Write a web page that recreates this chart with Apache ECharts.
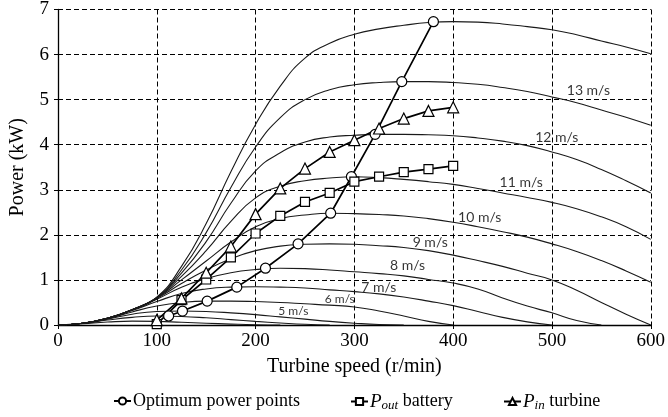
<!DOCTYPE html>
<html><head><meta charset="utf-8">
<script src="https://cdn.jsdelivr.net/npm/echarts@6/dist/echarts.min.js"></script>
<style>html,body{margin:0;padding:0;background:#fff}#c{width:668px;height:417px}</style>
</head><body><div id="c"></div>
<script>
// Turbine speed grid (r/min) for the wind-speed power curves
const speeds = [0,25,50,75,100,125,150,175,200,225,250,275,300,325,350,375,400,425,450,475,500,525,550,575,600];
// Power (kW) per wind speed curve
const w3  = [0,0.03,0.065,0.085,0.08,0.06,0.04,0.02,0.005,0,null,null,null,null,null,null,null,null,null,null,null,null,null,null,null];
const w4  = [0,0.035,0.11,0.17,0.2,0.19,0.16,0.12,0.08,0.045,0.015,0,null,null,null,null,null,null,null,null,null,null,null,null,null];
const w5  = [0,0.04,0.13,0.24,0.3,0.31,0.3,0.27,0.23,0.18,0.13,0.08,0.04,0.01,0,null,null,null,null,null,null,null,null,null,null];
const w6  = [0,0.04,0.14,0.29,0.42,0.5,0.53,0.53,0.52,0.5,0.47,0.44,0.4,0.31,0.2,0.08,0,null,null,null,null,null,null,null,null];
const w7  = [0,0.04,0.15,0.32,0.52,0.7,0.8,0.84,0.85,0.84,0.82,0.78,0.74,0.69,0.62,0.53,0.43,0.3,0.17,0.07,0,null,null,null,null];
const w8  = [0,0.04,0.15,0.33,0.57,0.84,1.03,1.16,1.23,1.26,1.25,1.22,1.18,1.14,1.09,1.01,0.93,0.8,0.6,0.42,0.27,0.1,0,null,null];
const w9  = [0,0.04,0.15,0.34,0.59,0.92,1.22,1.47,1.65,1.75,1.79,1.8,1.79,1.76,1.72,1.65,1.55,1.43,1.3,1.15,1.0,0.77,0.5,0.24,0];
const w10 = [0,0.04,0.15,0.34,0.6,1.0,1.42,1.84,2.18,2.36,2.44,2.48,2.47,2.45,2.42,2.36,2.28,2.18,2.07,1.95,1.8,1.63,1.43,1.2,0.95];
const w11 = [0,0.04,0.15,0.34,0.6,1.08,1.65,2.3,2.82,3.08,3.2,3.26,3.29,3.27,3.23,3.18,3.12,3.03,2.93,2.83,2.72,2.58,2.4,2.18,1.9];
const w12 = [0,0.04,0.15,0.34,0.6,1.15,1.85,2.7,3.42,3.82,4.06,4.17,4.21,4.23,4.23,4.22,4.2,4.15,4.08,3.98,3.84,3.67,3.45,3.2,2.93];
const w13 = [0,0.04,0.15,0.34,0.61,1.22,2.05,3.05,3.95,4.6,5.0,5.22,5.33,5.38,5.4,5.4,5.38,5.34,5.27,5.18,5.06,4.93,4.77,4.61,4.43];
const w14 = [0,0.04,0.15,0.34,0.62,1.3,2.25,3.4,4.45,5.3,5.92,6.25,6.45,6.57,6.65,6.71,6.73,6.72,6.68,6.62,6.55,6.44,6.3,6.17,6.02];
const windCurves = [w3,w4,w5,w6,w7,w8,w9,w10,w11,w12,w13,w14];

// Optimum power points
const optSpeed = [112,126,151,181,210,243,276,297,321,348,380];
const optPower = [0.2,0.31,0.53,0.84,1.26,1.80,2.48,3.29,4.23,5.40,6.73];
// Measured points
const measSpeed = [100,125,150,175,200,225,250,275,300,325,350,375,400];
const poutBattery = [0.02,0.55,1.01,1.5,2.03,2.42,2.73,2.93,3.18,3.29,3.39,3.46,3.53];
const pinTurbine = [0.11,0.59,1.16,1.74,2.46,3.03,3.47,3.84,4.10,4.36,4.58,4.75,4.83];

// Curve labels (anchor in data coordinates)
const labelText  = ['5 m/s','6 m/s','7 m/s','8 m/s','9 m/s','10 m/s','11 m/s','12 m/s','13 m/s'];
const labelSpeed = [223,270,307,336,359,405,447,483,515];
const labelPower = [0.31,0.58,0.84,1.33,1.82,2.39,3.17,4.17,5.21];

const SERIF = '"Liberation Serif","Times New Roman",serif';
const SANS = 'Lato, "Open Sans", sans-serif';

const chart = echarts.init(document.getElementById('c'), null, {renderer:'canvas'});

const series = [];
windCurves.forEach(function(arr){
  const d = [];
  arr.forEach(function(v,i){ if (v !== null) d.push([speeds[i], v]); });
  series.push({type:'line', data:d, symbol:'none', smooth:0.5,
    lineStyle:{color:'#1a1a1a', width:1.1}, silent:true, z:2, emphasis:{disabled:true}});
});

function markerSeries(name, xs, ys, sym, size){
  return {name:name, type:'line', data:xs.map(function(x,i){return [x, ys[i]];}),
    symbol:sym, symbolSize:size, showAllSymbol:true,
    lineStyle:{color:'#000', width:1.7},
    itemStyle:{color:'#fff', borderColor:'#000', borderWidth:1.2},
    z:5, emphasis:{disabled:true}};
}
series.push(markerSeries('Optimum power points', optSpeed, optPower, 'circle', 10));
series.push(markerSeries('Pout battery', measSpeed, poutBattery, 'rect', 9));
series.push(markerSeries('Pin turbine', measSpeed, pinTurbine, 'triangle', 11));

series.push({type:'scatter', symbolSize:0, silent:true, z:10,
  data: labelText.map(function(t,i){ return {name:t, value:[labelSpeed[i], labelPower[i]],
      label:{fontSize: i < 2 ? 12 : 14}}; }),
  label:{show:true, position:'right', distance:0, formatter:'{b}', color:'#000', fontFamily:SANS}
});

const legendRich = {
  p:{fontFamily:SERIF, fontSize:19, fontStyle:'italic', color:'#000'},
  s:{fontFamily:SERIF, fontSize:13, fontStyle:'italic', color:'#000', padding:[9,0,0,0]},
  t:{fontFamily:SERIF, fontSize:18, color:'#000'}
};
function legendFmt(name){
  if (name === 'Pout battery') return '{p|P}{s|out}{t| battery}';
  if (name === 'Pin turbine') return '{p|P}{s|in}{t| turbine}';
  return '{t|' + name + '}';
}
function mkLegend(left, name){
  return {left:left, top:387, data:[name], itemWidth:17, itemHeight:9, itemGap:0,
    formatter:legendFmt, selectedMode:false,
    textStyle:{fontFamily:SERIF, fontSize:18, color:'#000', rich:legendRich, padding:[0,0,0,-3]}};
}

const axisCommon = {
  axisLine:{show:true, lineStyle:{color:'#000', width:1.3}},
  axisTick:{show:true, length:4, inside:false, lineStyle:{color:'#000'}},
  splitLine:{show:true, lineStyle:{type:[5,3], color:'#000', width:1}},
  nameLocation:'middle',
  nameTextStyle:{fontFamily:SERIF, fontSize:20, color:'#000'}
};

chart.setOption({
  animation:false,
  backgroundColor:'#fff',
  grid:{left:57, right:14, top:9, bottom:92, containLabel:false},
  xAxis:Object.assign({}, axisCommon, {type:'value', min:0, max:600, interval:100,
    name:'Turbine speed (r/min)', nameGap:32,
    axisLabel:{fontFamily:SERIF, fontSize:19, color:'#000', margin:7}}),
  yAxis:Object.assign({}, axisCommon, {type:'value', min:0, max:7, interval:1,
    name:'Power (kW)', nameGap:30,
    axisLabel:{fontFamily:SERIF, fontSize:19, color:'#000', margin:9}}),
  legend:[mkLegend(108,'Optimum power points'), mkLegend(345,'Pout battery'), mkLegend(498,'Pin turbine')],
  series:series
});
</script></body></html>
